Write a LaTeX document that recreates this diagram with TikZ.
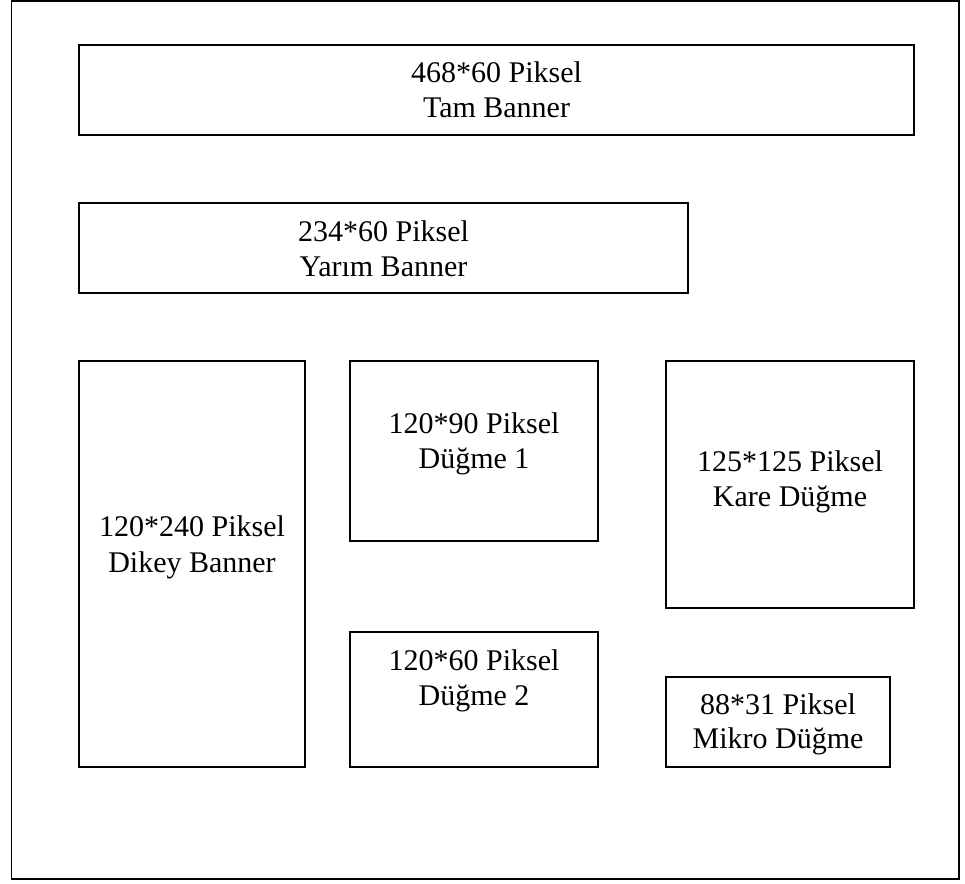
\documentclass[tikz,border=0pt]{standalone}
\usepackage{fontspec}
\setmainfont{Liberation Serif}
\begin{document}
\begin{tikzpicture}[x=1pt,y=-1pt,
  frame/.style={draw=black,line width=1.6pt},
  box/.style={draw=black,line width=1.5pt},
  lbl/.style={anchor=base,inner sep=0pt,font=\fontsize{30}{34.5}\selectfont}]
\useasboundingbox (0,0) rectangle (965,883);
\draw[frame] (11.5,1) rectangle (959,879);
% boxes
\draw[box] (79,45) rectangle (914,135);
\draw[box] (79,203) rectangle (688,293);
\draw[box] (79,361) rectangle (305,767);
\draw[box] (350,361) rectangle (598,541);
\draw[box] (666,361) rectangle (914,608);
\draw[box] (350,632) rectangle (598,767);
\draw[box] (666,677) rectangle (890,767);
% labels
\node[lbl] (t1a) at (496.5,82) {468*60 Piksel};
\node[lbl] (t1b) at (496.5,117) {Tam Banner};
\node[lbl] (t2a) at (383.5,241) {234*60 Piksel};
\node[lbl] (t2b) at (383.5,276) {Yarım Banner};
\node[lbl] (t3a) at (192,536) {120*240 Piksel};
\node[lbl] (t3b) at (192,572) {Dikey Banner};
\node[lbl] (t4a) at (474,433) {120*90 Piksel};
\node[lbl] (t4b) at (474,468) {Düğme 1};
\node[lbl] (t5a) at (790,471) {125*125 Piksel};
\node[lbl] (t5b) at (790,506) {Kare Düğme};
\node[lbl] (t6a) at (474,670) {120*60 Piksel};
\node[lbl] (t6b) at (474,705) {Düğme 2};
\node[lbl] (t7a) at (778,714) {88*31 Piksel};
\node[lbl] (t7b) at (778,748) {Mikro Düğme};
\end{tikzpicture}
\end{document}
